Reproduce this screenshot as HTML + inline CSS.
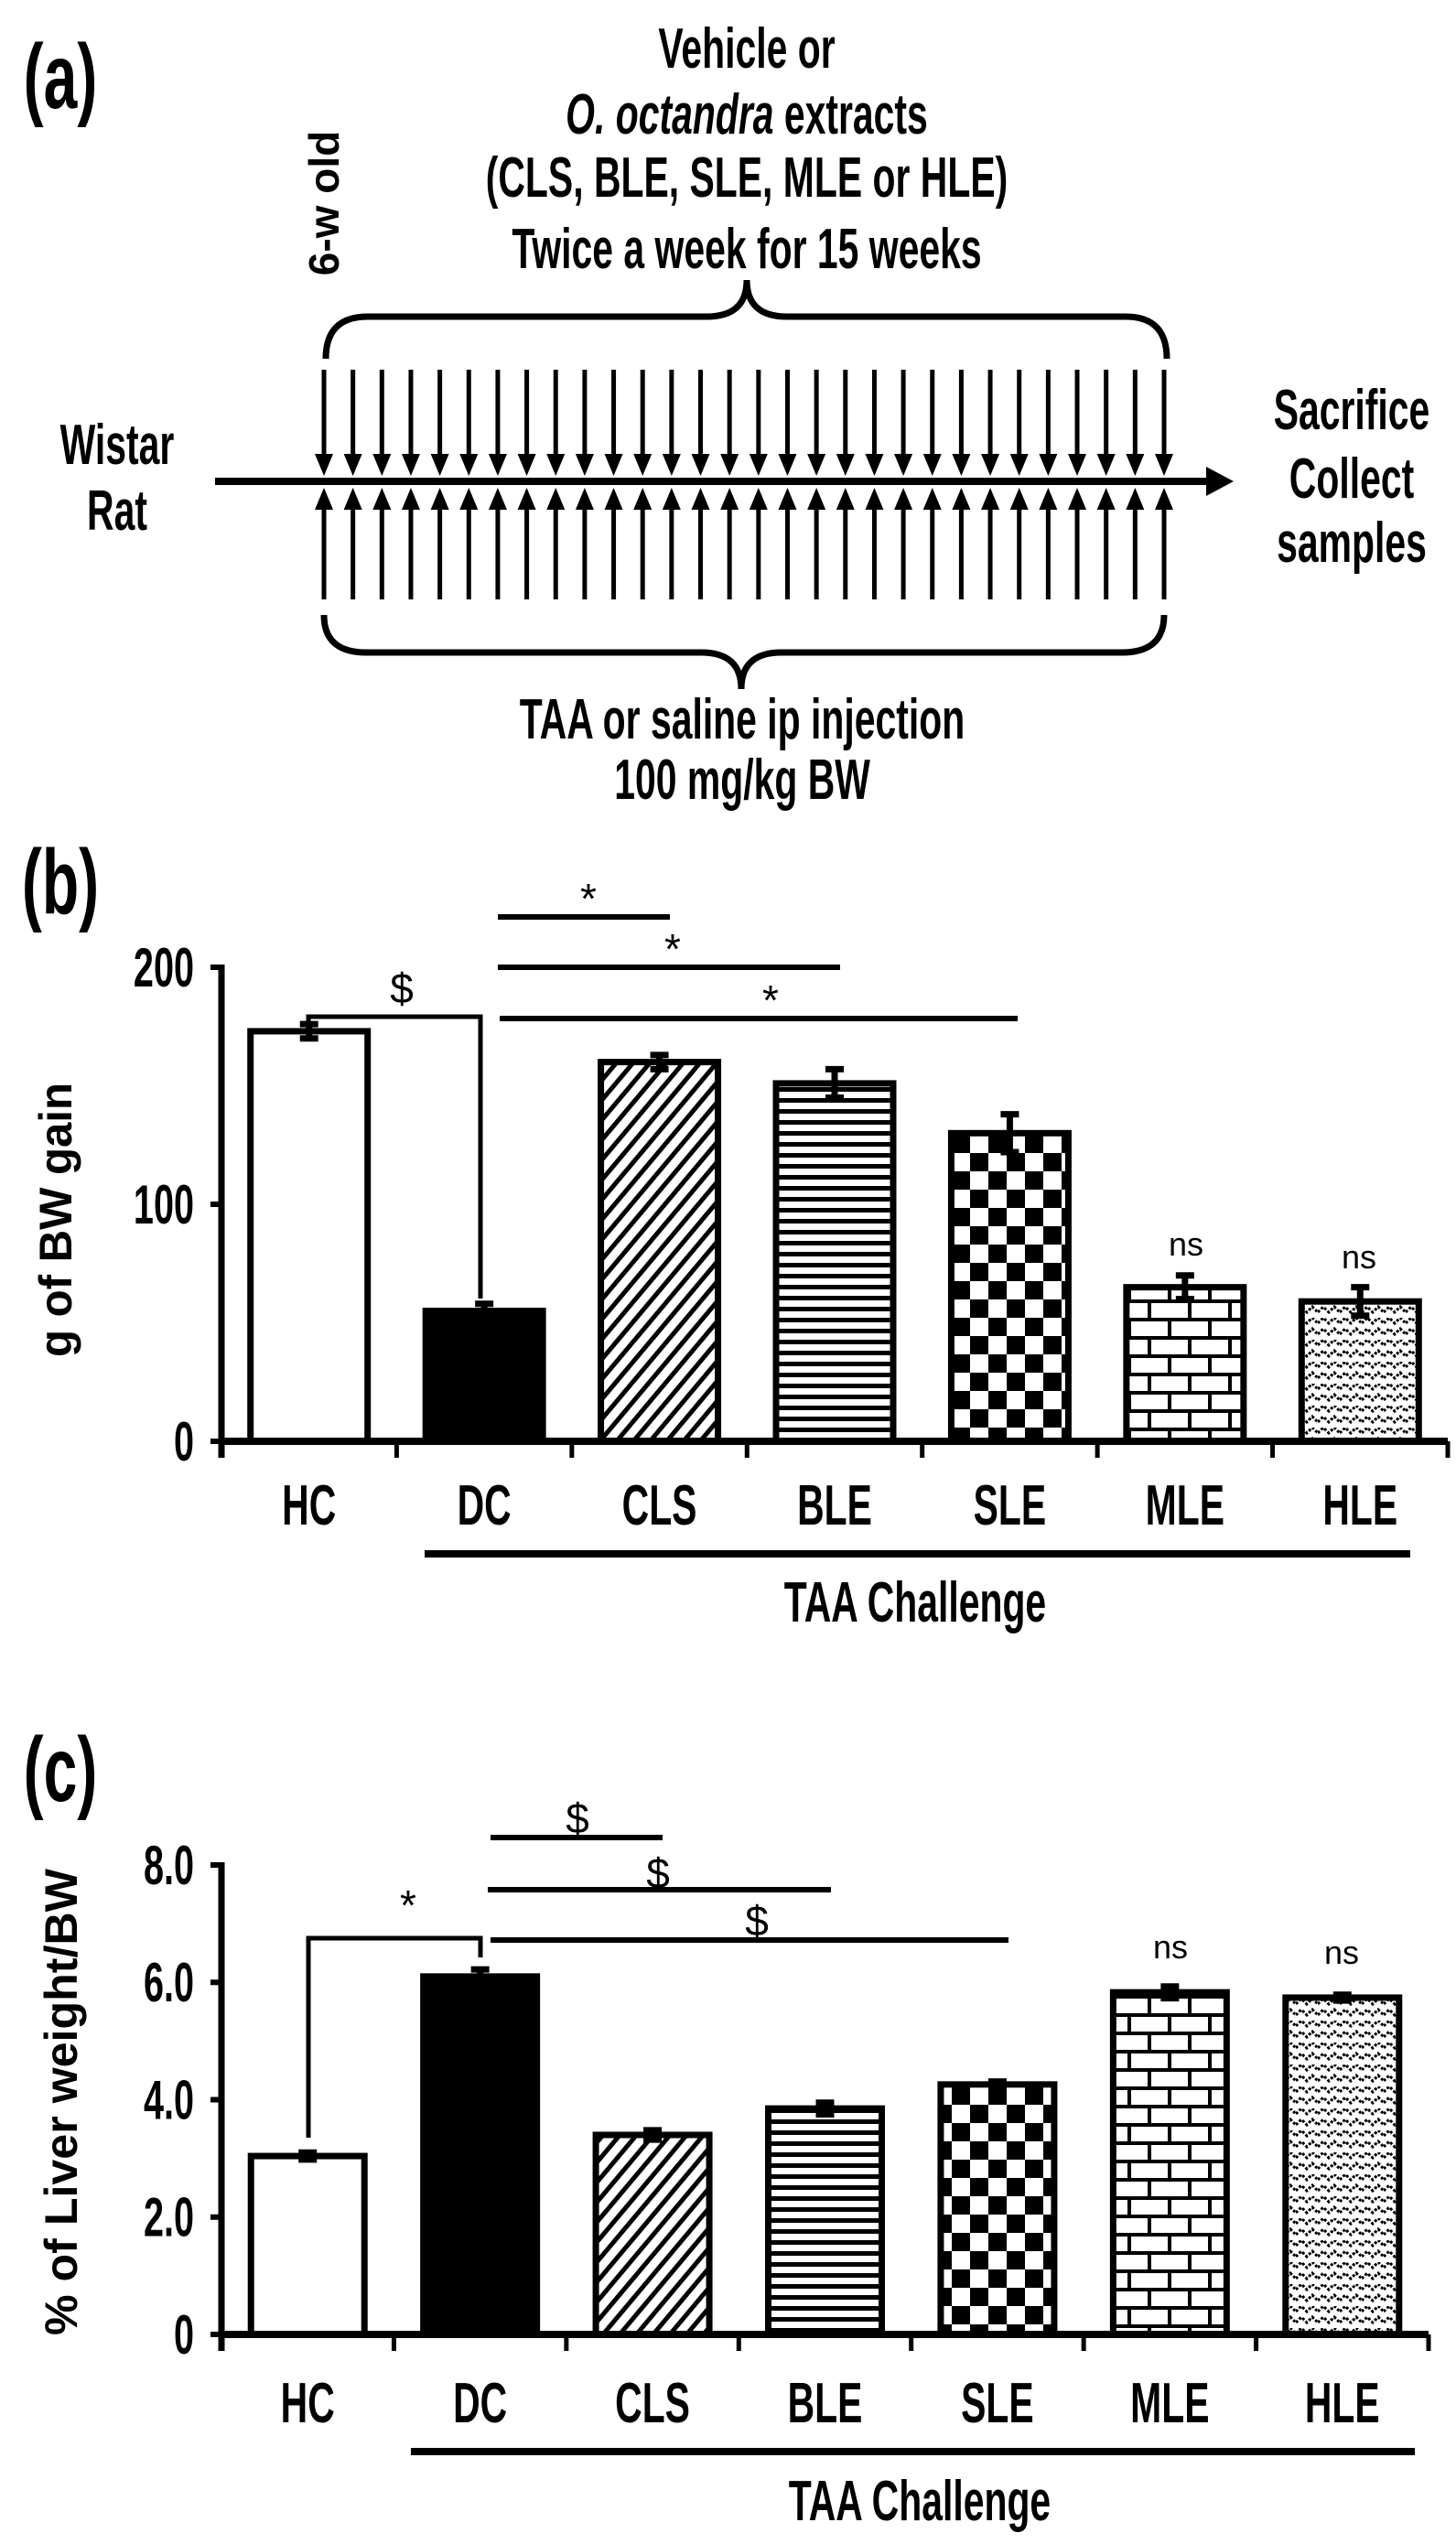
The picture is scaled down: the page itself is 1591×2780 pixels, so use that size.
<!DOCTYPE html>
<html><head><meta charset="utf-8">
<style>
html,body{margin:0;padding:0;background:#fff;}
svg{display:block;}
text{font-family:"Liberation Sans",sans-serif;fill:#000;}
.b{font-weight:bold;}
.c{transform-box:fill-box;transform-origin:center;transform:scaleX(0.66);}
.cr{transform-box:fill-box;transform-origin:right center;transform:scaleX(0.66);}
</style></head>
<body>
<svg id="fig" width="1591" height="2780" viewBox="0 0 1591 2780" xmlns="http://www.w3.org/2000/svg">
<defs>
 <pattern id="pDiag" patternUnits="userSpaceOnUse" width="14" height="14" patternTransform="rotate(40)">
  <rect width="14" height="14" fill="#fff"/><rect width="5" height="14" fill="#000"/>
 </pattern>
 <pattern id="pHor" patternUnits="userSpaceOnUse" width="12" height="12">
  <rect width="12" height="12" fill="#fff"/><rect y="0" width="12" height="5" fill="#000"/>
 </pattern>
 <pattern id="pCheck" patternUnits="userSpaceOnUse" width="40" height="40">
  <rect width="40" height="40" fill="#fff"/><rect width="20" height="20" fill="#000"/><rect x="20" y="20" width="20" height="20" fill="#000"/>
 </pattern>
 <pattern id="pBrick" patternUnits="userSpaceOnUse" width="44" height="40">
  <rect width="44" height="40" fill="#fff"/>
  <rect y="0" width="44" height="4" fill="#000"/><rect y="20" width="44" height="4" fill="#000"/>
  <rect x="0" y="0" width="4" height="20" fill="#000"/><rect x="22" y="20" width="4" height="20" fill="#000"/>
 </pattern>
 <pattern id="pZig" patternUnits="userSpaceOnUse" width="24" height="24">
  <rect width="24" height="24" fill="#fff"/>
  <path d="M0,6 L6,0 L12,6 L18,0 L24,6 M0,18 L6,12 L12,18 L18,12 L24,18" stroke="#000" stroke-width="3" fill="none" stroke-dasharray="3 2"/>
 </pattern>
</defs>

<!-- Panel A -->
<g>
 <text class="b c" x="66" y="118" font-size="100" text-anchor="middle">(a)</text>
 <text class="b c" x="816" y="74" font-size="62" text-anchor="middle">Vehicle or</text>
 <text class="b c" x="816" y="146" font-size="62" text-anchor="middle"><tspan font-style="italic">O. octandra</tspan> extracts</text>
 <text class="b c" x="816" y="215" font-size="62" text-anchor="middle">(CLS, BLE, SLE, MLE or HLE)</text>
 <text class="b c" x="816" y="293" font-size="62" text-anchor="middle">Twice a week for 15 weeks</text>
 <text class="b" x="0" y="0" font-size="46" text-anchor="middle" transform="translate(370,222) rotate(-90)">6-w old</text>
 <path d="M356,392 Q356,346 402,346 L772,346 Q816,346 816,306 Q816,346 860,346 L1230,346 Q1275,346 1275,392" stroke="#000" stroke-width="7" fill="none"/>
 <path d="M354,672 Q354,713 400,713 L766,713 Q810,713 810,753 Q810,713 854,713 L1226,713 Q1272,713 1272,672" stroke="#000" stroke-width="7" fill="none"/>
 <line x1="235" y1="526" x2="1320" y2="526" stroke="#000" stroke-width="8"/>
 <polygon points="1318,510 1348,526 1318,542" fill="#000"/>
 <g id="arrows"></g>
 <text class="b c" x="128" y="507" font-size="62" text-anchor="middle">Wistar</text>
 <text class="b c" x="128" y="579" font-size="62" text-anchor="middle">Rat</text>
 <text class="b c" x="1477" y="469" font-size="62" text-anchor="middle">Sacrifice</text>
 <text class="b c" x="1477" y="544" font-size="62" text-anchor="middle">Collect</text>
 <text class="b c" x="1477" y="614" font-size="62" text-anchor="middle">samples</text>
 <text class="b c" x="811" y="807" font-size="62" text-anchor="middle">TAA or saline ip injection</text>
 <text class="b c" x="811" y="873" font-size="62" text-anchor="middle">100 mg/kg BW</text>
</g>

<g id="chartB">
 <text class="b c" x="66" y="998" font-size="100" text-anchor="middle">(b)</text>
</g>
<g id="chartC">
 <text class="b c" x="66" y="1968" font-size="100" text-anchor="middle">(c)</text>
</g>
</svg>

<script>
const categories = ["HC","DC","CLS","BLE","SLE","MLE","HLE"];
const bwGain = [173, 55, 160, 151, 130, 65, 59];
const bwErr = [3, 3, 3, 6, 8, 5, 6];
const liverPct = [3.04, 6.1, 3.4, 3.85, 4.26, 5.83, 5.74];
const liverErr = [0.06, 0.12, 0.08, 0.1, 0.05, 0.1, 0.05];
const yTicksB = [0, 100, 200];
const yTickLabelsB = ["0", "100", "200"];
const yTicksC = [0, 2, 4, 6, 8];
const yTickLabelsC = ["0", "2.0", "4.0", "6.0", "8.0"];
const fills = ["#fff","#000","url(#pDiag)","url(#pHor)","url(#pCheck)","url(#pBrick)","url(#pZig)"];
const NS = "http://www.w3.org/2000/svg";

function mk(parent, tag, attrs, text) {
  const e = document.createElementNS(NS, tag);
  for (const k in attrs) e.setAttribute(k, attrs[k]);
  if (text !== undefined) e.textContent = text;
  parent.appendChild(e);
  return e;
}

(function(){
  const g = document.getElementById('arrows');
  const n = 30, x0 = 354, x1 = 1272;
  for (let i = 0; i < n; i++) {
    const x = x0 + i * (x1 - x0) / (n - 1);
    const d = mk(g, 'line', {x1:x, y1:404, x2:x, y2:500, stroke:'#000', 'stroke-width':5});
    
    
    const dh = mk(g, 'polygon', {points:`${x-10},496 ${x+10},496 ${x},520`, fill:'#000'});
    
    
    const u = mk(g, 'line', {x1:x, y1:553, x2:x, y2:655, stroke:'#000', 'stroke-width':5});
    
    
    const uh = mk(g, 'polygon', {points:`${x-10},557 ${x+10},557 ${x},533`, fill:'#000'});
    
    
  }
})();

function drawChart(g, o) {
  const y = v => o.y0 - (v - o.vmin) / (o.vmax - o.vmin) * (o.y0 - o.yTop);
  const step = (o.xEnd - o.xAxis) / categories.length;
  const xc = i => o.xAxis + step * (i + 0.5);
  const ya = mk(g, 'line', {x1:o.xAxis, y1:o.yTop-3, x2:o.xAxis, y2:o.y0+18, stroke:'#000', 'stroke-width':7});
  
  
  o.ticks.forEach((t, i) => {
    const tk = mk(g, 'line', {x1:o.xAxis-12, y1:y(t), x2:o.xAxis, y2:y(t), stroke:'#000', 'stroke-width':6});
    
    
    const tl = mk(g, 'text', {x:o.xAxis-30, y:y(t)+21, 'font-size':60, 'text-anchor':'end', class:'b cr'}, o.tickLabels[i]);
    
    
  });
  const yt = mk(g, 'text', {x:0, y:0, 'font-size':50, 'text-anchor':'middle', class:'b', textLength:o.titleLen, lengthAdjust:'spacingAndGlyphs', transform:`translate(${o.titleX},${o.titleY}) rotate(-90)`}, o.title);
  
  
  o.values.forEach((v, i) => {
    const cx = xc(i), w = o.barW;
    const r = mk(g, 'rect', {x:cx-w/2, y:y(v), width:w, height:o.y0-y(v), fill:fills[i], stroke:'#000', 'stroke-width':7});
    
    
    const e = o.errs[i];
    const eb = mk(g, 'path', {d:`M${cx},${y(v-e)} L${cx},${y(v+e)} M${cx-10},${y(v+e)} L${cx+10},${y(v+e)} M${cx-10},${y(v-e)} L${cx+10},${y(v-e)}`, stroke:'#000', 'stroke-width':7, fill:'none'});
    
    
    const xl = mk(g, 'text', {x:cx, y:o.labelY, 'font-size':62, 'text-anchor':'middle', class:'b c'}, categories[i]);
    
    
  });
  const xa = mk(g, 'line', {x1:o.xAxis, y1:o.y0, x2:o.xEnd, y2:o.y0, stroke:'#000', 'stroke-width':8});
  
  
  for (let i = 0; i <= categories.length; i++) {
    const xt = o.xAxis + step * i;
    const t = mk(g, 'line', {x1:xt, y1:o.y0, x2:xt, y2:o.y0+18, stroke:'#000', 'stroke-width':5});
    
    
  }
  const ul = mk(g, 'line', {x1:o.ulX1, y1:o.ulY, x2:o.ulX2, y2:o.ulY, stroke:'#000', 'stroke-width':8});
  
  
  const tc = mk(g, 'text', {x:o.tcX, y:o.tcY, 'font-size':62, 'text-anchor':'middle', class:'b c'}, 'TAA Challenge');
  
  
  const br = mk(g, 'path', {d:o.bracket, stroke:'#000', 'stroke-width':5, fill:'none'});
  
  
  const bs = mk(g, 'text', {x:o.bracketSym[0], y:o.bracketSym[1], 'font-size':46, 'text-anchor':'middle'}, o.bracketSym[2]);
  
  
  o.sigLines.forEach(s => {
    const l = mk(g, 'line', {x1:s[0], y1:s[2], x2:s[1], y2:s[2], stroke:'#000', 'stroke-width':6});
    
    
    const t = mk(g, 'text', {x:s[3], y:s[4], 'font-size':46, 'text-anchor':'middle'}, o.sigSym);
    
    
  });
  o.ns.forEach(n => {
    const t = mk(g, 'text', {x:n[0], y:n[1], 'font-size':36, 'text-anchor':'middle'}, 'ns');
    
    
  });
}

drawChart(document.getElementById('chartB'), {
  values: bwGain, errs: bwErr, vmin: 0, vmax: 200, y0: 1575, yTop: 1057,
  xAxis: 242, xEnd: 1582, barW: 128, ticks: yTicksB, tickLabels: yTickLabelsB,
  title: 'g of BW gain', titleLen: 300, titleX: 78, titleY: 1333, labelY: 1666,
  ulX1: 464, ulX2: 1541, ulY: 1698, tcX: 1000, tcY: 1772,
  bracket: 'M337,1122 L337,1111 L525,1111 L525,1419',
  bracketSym: [439, 1096, '$'],
  sigSym: '*',
  sigLines: [[544, 732, 1002, 643, 998], [544, 918, 1057, 735, 1053], [546, 1112, 1113, 842, 1109]],
  ns: [[1296, 1372], [1485, 1386]]
});

drawChart(document.getElementById('chartC'), {
  values: liverPct, errs: liverErr, vmin: 0, vmax: 8, y0: 2551, yTop: 2038,
  xAxis: 242, xEnd: 1561, barW: 124, ticks: yTicksC, tickLabels: yTickLabelsC,
  title: '% of Liver weight/BW', titleLen: 510, titleX: 84, titleY: 2297, labelY: 2647,
  ulX1: 449, ulX2: 1546, ulY: 2679, tcX: 1005, tcY: 2754,
  bracket: 'M337,2336 L337,2118 L525,2118 L525,2139',
  bracketSym: [446, 2098, '*'],
  sigSym: '$',
  sigLines: [[536, 724, 2008, 631, 2003], [533, 908, 2065, 719, 2063], [536, 1102, 2120, 827, 2115]],
  ns: [[1279, 2140], [1466, 2146]]
});
</script>
</body></html>
